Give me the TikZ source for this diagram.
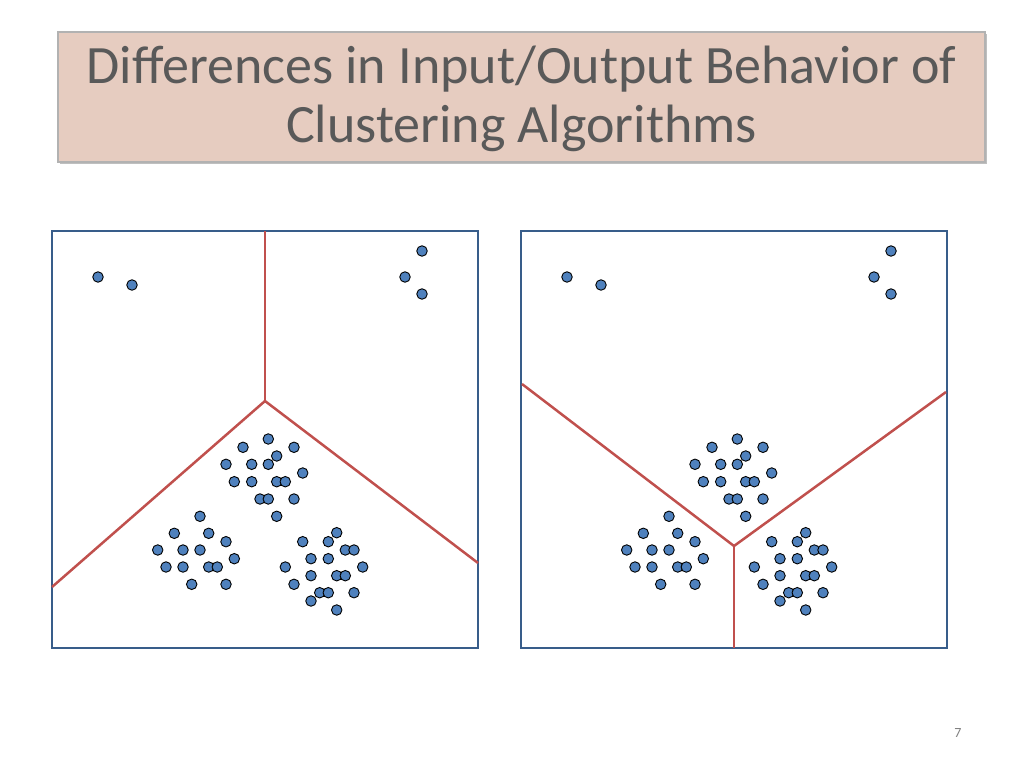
\documentclass[tikz,border=0pt]{standalone}
\usepackage{fontspec}
\setmainfont{Carlito}
\usetikzlibrary{shadows}
\definecolor{titlefill}{RGB}{230,204,192}
\definecolor{titletext}{RGB}{89,89,89}
\definecolor{dotblue}{RGB}{79,129,189}
\definecolor{boxblue}{RGB}{56,93,138}
\definecolor{cutred}{RGB}{192,80,77}
\tikzset{pt/.style={circle,draw=black,fill=dotblue,line width=0.9pt,inner sep=0pt,minimum size=10.5pt},
  panel/.style={draw=boxblue,line width=2pt},
  cut/.style={draw=cutred,line width=2.5pt}}
\begin{document}
\begin{tikzpicture}[x=1pt,y=-1pt]
\useasboundingbox (0,0) rectangle (1024,768);
% title
\node[draw=gray!60,line width=1.5pt,fill=titlefill,drop shadow,minimum width=927pt,minimum height=130pt] (title) at (521.5,97) {};
\node[text=titletext,font=\fontsize{54}{59}\selectfont,align=center] (head) at (521.5,99) {Differences in Input/Output Behavior of\\Clustering Algorithms};
\node[text=gray,font=\fontsize{14}{16}\selectfont] (page) at (958,733) {7};
% two panels, same points
\foreach \dx/\p in {0/L,469/R}{
\begin{scope}[xshift=\dx]
\draw[panel] (52,231) rectangle (478,648);
\foreach \x/\y in {98/277,132/285,422/251,405/277,422/294,
  268.3/439,243/447.3,294/447.3,276.7/456,226/464.3,251.7/464.3,268.3/464.3,302.7/473,
  234.3/481.7,251.7/481.7,276.7/481.7,285.3/481.7,260/499,268.3/499,294/499,276.7/516.3,
  200/516.3,174.3/533.3,208.7/533.3,226/541.7,157.7/550,183/550,200/550,234.3/558.7,
  166/567,183/567,208.7/567,217.3/567,191.7/584.3,226/584.3,
  336.7/532.7,302.7/541.7,328.3/541.7,345.3/550,354/550,311/558.7,328.3/558.7,
  285.3/567,362.7/567,311/575.7,336.7/575.7,345.3/575.7,294/584.3,319.7/592.7,
  328.3/592.7,354/592.7,311/601,336.7/610}
  \node[pt] at (\x,\y) {};
\end{scope}}
% left partition
\coordinate (lc) at (265,401);
\draw[cut] (265,231) -- (lc);
\draw[cut] (lc) -- (52,587);
\draw[cut] (lc) -- (478,563);
% right partition
\coordinate (rc) at (734,546);
\draw[cut] (522,384) -- (rc);
\draw[cut] (rc) -- (946,392);
\draw[cut] (rc) -- (734,648);
\end{tikzpicture}
\end{document}
